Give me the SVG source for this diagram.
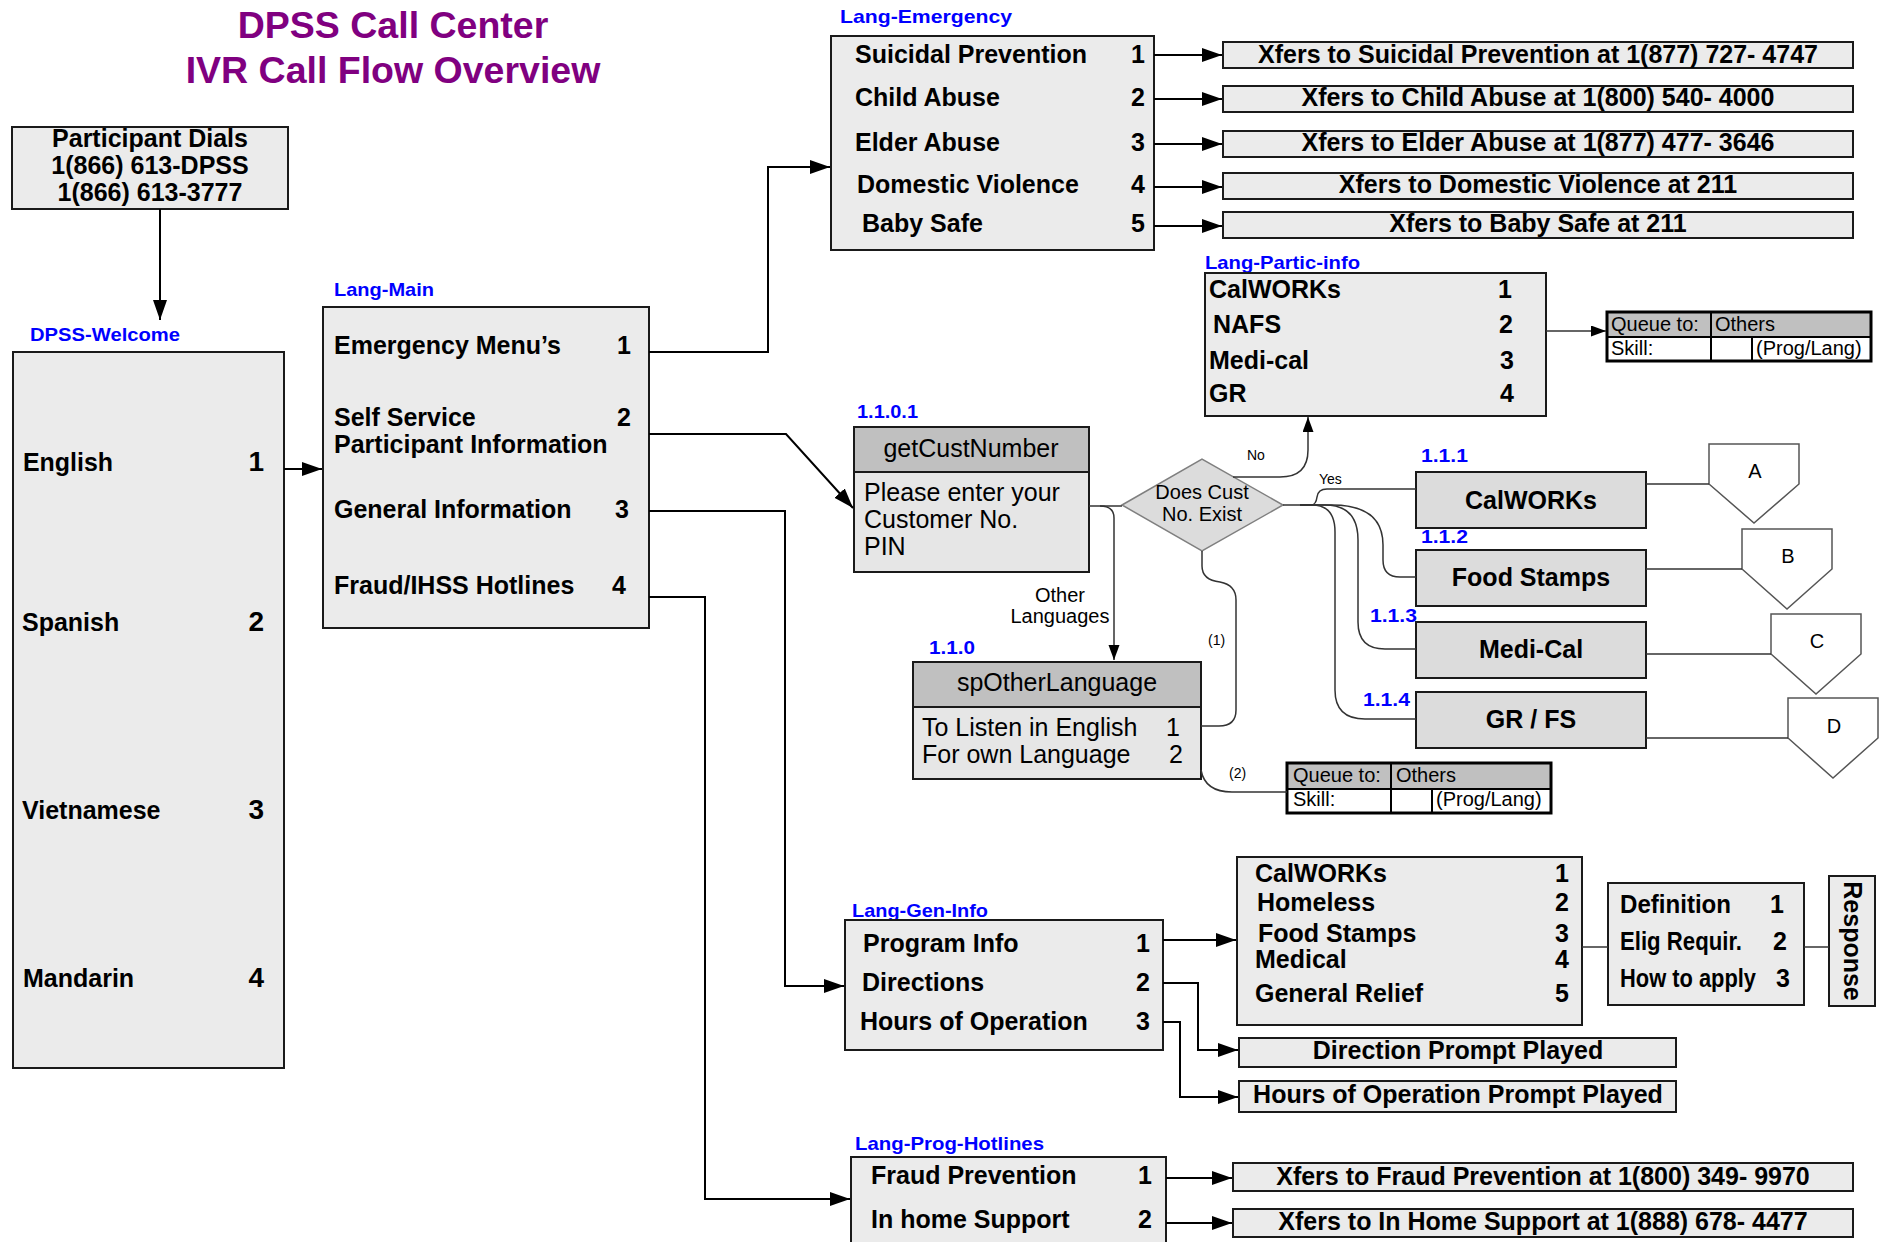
<svg xmlns="http://www.w3.org/2000/svg" width="1885" height="1242" viewBox="0 0 1885 1242">
<style>
text{font-family:"Liberation Sans",Arial,sans-serif;}
.box{fill:#ebebeb;stroke:#1a1a1a;stroke-width:2;}
.dbox{fill:#dcdcdc;stroke:#1a1a1a;stroke-width:2;}
.hdr{fill:#c0c0c0;stroke:#1a1a1a;stroke-width:2;}
.body{fill:#e6e6e6;stroke:#1a1a1a;stroke-width:2;}
.t{font-weight:bold;font-size:25px;fill:#000;}
.num{font-weight:bold;font-size:28px;fill:#000;text-anchor:end;}
.n{font-weight:bold;font-size:25px;fill:#000;text-anchor:end;}
.c{text-anchor:middle;}
.r{font-weight:normal;font-size:25px;fill:#000;}
.s{font-weight:normal;font-size:20px;fill:#000;}
.xs{font-weight:normal;font-size:14px;fill:#000;}
.lbl{font-weight:bold;font-size:19px;fill:#0000ff;}
.title{font-weight:bold;font-size:37.5px;fill:#800080;text-anchor:middle;}
.conn{fill:none;stroke:#000;stroke-width:2;}
.thin{fill:none;stroke:#333;stroke-width:1.5;}
.pent{fill:#fff;stroke:#555;stroke-width:1.5;}
.qo{fill:none;stroke:#000;stroke-width:3;}
.qi{fill:none;stroke:#000;stroke-width:2;}
</style>
<defs>
<marker id="ah" markerUnits="userSpaceOnUse" markerWidth="22" markerHeight="16" refX="20" refY="7" orient="auto">
<path d="M0,0 L20,7 L0,14 z" fill="#000"/>
</marker>
<marker id="ahs" markerUnits="userSpaceOnUse" markerWidth="16" markerHeight="12" refX="15" refY="5.5" orient="auto">
<path d="M0,0 L15,5.5 L0,11 z" fill="#000"/>
</marker>
</defs>
<rect width="1885" height="1242" fill="#fff"/>

<g id="title">
<text class="title" x="393" y="38">DPSS Call Center</text>
<text class="title" x="393" y="83">IVR Call Flow Overview</text>
</g>

<g id="participant-dials">
<rect class="box" x="12" y="127" width="276" height="82"/>
<text class="t c" x="150" y="147">Participant Dials</text>
<text class="t c" x="150" y="174">1(866) 613-DPSS</text>
<text class="t c" x="150" y="201">1(866) 613-3777</text>
</g>

<g id="dpss-welcome">
<text class="lbl" x="30" y="341" font-size="20" textLength="150" lengthAdjust="spacingAndGlyphs">DPSS-Welcome</text>
<rect class="box" x="13" y="352" width="271" height="716"/>
<text class="t" x="23" y="471" textLength="90" lengthAdjust="spacingAndGlyphs">English</text>
<text class="num" x="264" y="471">1</text>
<text class="t" x="22" y="631">Spanish</text>
<text class="num" x="264" y="631">2</text>
<text class="t" x="22" y="819">Vietnamese</text>
<text class="num" x="264" y="819">3</text>
<text class="t" x="23" y="987">Mandarin</text>
<text class="num" x="264" y="987">4</text>
</g>

<g id="lang-main">
<text class="lbl" x="334" y="296" textLength="100" lengthAdjust="spacingAndGlyphs">Lang-Main</text>
<rect class="box" x="323" y="307" width="326" height="321"/>
<text class="t" x="334" y="354">Emergency Menu’s</text>
<text class="n" x="631" y="354">1</text>
<text class="t" x="334" y="426">Self Service</text>
<text class="n" x="631" y="426">2</text>
<text class="t" x="334" y="453">Participant Information</text>
<text class="t" x="334" y="518">General Information</text>
<text class="n" x="629" y="518">3</text>
<text class="t" x="334" y="594">Fraud/IHSS Hotlines</text>
<text class="n" x="626" y="594">4</text>
</g>

<g id="lang-emergency">
<text class="lbl" x="840" y="23" textLength="172" lengthAdjust="spacingAndGlyphs">Lang-Emergency</text>
<rect class="box" x="831" y="36" width="323" height="214"/>
<text class="t" x="855" y="63">Suicidal Prevention</text>
<text class="n" x="1145" y="63">1</text>
<text class="t" x="855" y="106">Child Abuse</text>
<text class="n" x="1145" y="106">2</text>
<text class="t" x="855" y="151">Elder Abuse</text>
<text class="n" x="1145" y="151">3</text>
<text class="t" x="857" y="193">Domestic Violence</text>
<text class="n" x="1145" y="193">4</text>
<text class="t" x="862" y="232">Baby Safe</text>
<text class="n" x="1145" y="232">5</text>
</g>

<g id="xfer-emergency">
<rect class="box" x="1223" y="42" width="630" height="26"/>
<text class="t c" x="1538" y="63">Xfers to Suicidal Prevention at 1(877) 727- 4747</text>
<rect class="box" x="1223" y="86" width="630" height="26"/>
<text class="t c" x="1538" y="106">Xfers to Child Abuse at 1(800) 540- 4000</text>
<rect class="box" x="1223" y="131" width="630" height="26"/>
<text class="t c" x="1538" y="151">Xfers to Elder Abuse at 1(877) 477- 3646</text>
<rect class="box" x="1223" y="173" width="630" height="26"/>
<text class="t c" x="1538" y="193">Xfers to Domestic Violence at 211</text>
<rect class="box" x="1223" y="212" width="630" height="26"/>
<text class="t c" x="1538" y="232">Xfers to Baby Safe at 211</text>
</g>

<g id="lang-partic-info">
<text class="lbl" x="1205" y="269" textLength="155" lengthAdjust="spacingAndGlyphs">Lang-Partic-info</text>
<rect class="box" x="1205" y="273" width="341" height="143"/>
<text class="t" x="1209" y="298">CalWORKs</text>
<text class="t c" x="1505" y="298">1</text>
<text class="t" x="1213" y="333">NAFS</text>
<text class="t c" x="1506" y="333">2</text>
<text class="t" x="1209" y="369">Medi-cal</text>
<text class="t c" x="1507" y="369">3</text>
<text class="t" x="1209" y="402">GR</text>
<text class="t c" x="1507" y="402">4</text>
</g>

<g id="queue-1">
<rect x="1607" y="312" width="264" height="25" fill="#c0c0c0"/>
<rect x="1607" y="337" width="264" height="24" fill="#fff"/>
<rect class="qo" x="1607" y="312" width="264" height="49"/>
<line class="qi" x1="1607" y1="337" x2="1871" y2="337"/>
<line class="qi" x1="1711" y1="312" x2="1711" y2="361"/>
<line class="qi" x1="1752" y1="337" x2="1752" y2="361"/>
<text class="s" x="1611" y="331">Queue to:</text>
<text class="s" x="1715" y="331">Others</text>
<text class="s" x="1611" y="355">Skill:</text>
<text class="s" x="1756" y="355">(Prog/Lang)</text>
</g>

<g id="getCustNumber">
<text class="lbl" x="857" y="418" textLength="61" lengthAdjust="spacingAndGlyphs">1.1.0.1</text>
<rect class="body" x="854" y="427" width="235" height="145"/>
<rect class="hdr" x="854" y="427" width="235" height="45"/>
<text class="r c" x="971" y="457">getCustNumber</text>
<text class="r" x="864" y="501">Please enter your</text>
<text class="r" x="864" y="528">Customer No.</text>
<text class="r" x="864" y="555">PIN</text>
</g>

<g id="decision">
<polygon points="1122,505 1202,459 1283,505 1202,551" fill="#dcdcdc" stroke="#7f7f7f" stroke-width="1.5"/>
<text class="s c" x="1202" y="499">Does Cust</text>
<text class="s c" x="1202" y="521">No. Exist</text>
</g>

<g id="spOtherLanguage">
<text class="lbl" x="929" y="654" textLength="46" lengthAdjust="spacingAndGlyphs">1.1.0</text>
<rect class="body" x="913" y="662" width="288" height="117"/>
<rect class="hdr" x="913" y="662" width="288" height="45"/>
<text class="r c" x="1057" y="691">spOtherLanguage</text>
<text class="r" x="922" y="736" font-size="23">To Listen in English</text>
<text class="r" x="1166" y="736" font-size="23">1</text>
<text class="r" x="922" y="763" font-size="23">For own Language</text>
<text class="r" x="1169" y="763" font-size="23">2</text>
</g>

<g id="queue-2">
<rect x="1287" y="763" width="264" height="26" fill="#c0c0c0"/>
<rect x="1287" y="789" width="264" height="24" fill="#fff"/>
<rect class="qo" x="1287" y="763" width="264" height="50"/>
<line class="qi" x1="1287" y1="789" x2="1551" y2="789"/>
<line class="qi" x1="1391" y1="763" x2="1391" y2="813"/>
<line class="qi" x1="1432" y1="789" x2="1432" y2="813"/>
<text class="s" x="1293" y="782">Queue to:</text>
<text class="s" x="1396" y="782">Others</text>
<text class="s" x="1293" y="806">Skill:</text>
<text class="s" x="1436" y="806">(Prog/Lang)</text>
</g>

<g id="calworks">
<text class="lbl" x="1421" y="462" textLength="47" lengthAdjust="spacingAndGlyphs">1.1.1</text>
<rect class="dbox" x="1416" y="472" width="230" height="56"/>
<text class="t c" x="1531" y="509">CalWORKs</text>
</g>
<g id="food-stamps">
<text class="lbl" x="1421" y="543" textLength="47" lengthAdjust="spacingAndGlyphs">1.1.2</text>
<rect class="dbox" x="1416" y="550" width="230" height="56"/>
<text class="t c" x="1531" y="586">Food Stamps</text>
</g>
<g id="medi-cal">
<text class="lbl" x="1370" y="622" textLength="47" lengthAdjust="spacingAndGlyphs">1.1.3</text>
<rect class="dbox" x="1416" y="622" width="230" height="56"/>
<text class="t c" x="1531" y="658">Medi-Cal</text>
</g>
<g id="gr-fs">
<text class="lbl" x="1363" y="706" textLength="47" lengthAdjust="spacingAndGlyphs">1.1.4</text>
<rect class="dbox" x="1416" y="692" width="230" height="56"/>
<text class="t c" x="1531" y="728">GR / FS</text>
</g>

<g id="offpage-A">
<polygon class="pent" points="1709,444 1799,444 1799,484 1754,523 1709,484"/>
<text class="s c" x="1755" y="478">A</text>
</g>
<g id="offpage-B">
<polygon class="pent" points="1742,529 1832,529 1832,569 1787,609 1742,569"/>
<text class="s c" x="1788" y="563">B</text>
</g>
<g id="offpage-C">
<polygon class="pent" points="1771,614 1861,614 1861,654 1816,694 1771,654"/>
<text class="s c" x="1817" y="648">C</text>
</g>
<g id="offpage-D">
<polygon class="pent" points="1788,698 1878,698 1878,738 1833,778 1788,738"/>
<text class="s c" x="1834" y="733">D</text>
</g>

<g id="lang-gen-info">
<text class="lbl" x="852" y="917" textLength="136" lengthAdjust="spacingAndGlyphs">Lang-Gen-Info</text>
<rect class="box" x="845" y="920" width="318" height="130"/>
<text class="t" x="863" y="952">Program Info</text>
<text class="n" x="1150" y="952">1</text>
<text class="t" x="862" y="991">Directions</text>
<text class="n" x="1150" y="991">2</text>
<text class="t" x="860" y="1030">Hours of Operation</text>
<text class="n" x="1150" y="1030">3</text>
</g>

<g id="program-info">
<rect class="box" x="1237" y="857" width="345" height="168"/>
<text class="t" x="1255" y="882">CalWORKs</text>
<text class="n" x="1569" y="882">1</text>
<text class="t" x="1257" y="911">Homeless</text>
<text class="n" x="1569" y="911">2</text>
<text class="t" x="1258" y="942">Food Stamps</text>
<text class="n" x="1569" y="942">3</text>
<text class="t" x="1255" y="968">Medical</text>
<text class="n" x="1569" y="968">4</text>
<text class="t" x="1255" y="1002">General Relief</text>
<text class="n" x="1569" y="1002">5</text>
</g>

<g id="definition">
<rect class="box" x="1608" y="883" width="196" height="122"/>
<text class="t" x="1620" y="913" font-size="22" textLength="111" lengthAdjust="spacingAndGlyphs">Definition</text>
<text class="n" x="1784" y="913" font-size="22">1</text>
<text class="t" x="1620" y="950" font-size="22" textLength="122" lengthAdjust="spacingAndGlyphs">Elig Requir.</text>
<text class="n" x="1787" y="950" font-size="22">2</text>
<text class="t" x="1620" y="987" font-size="22" textLength="136" lengthAdjust="spacingAndGlyphs">How to apply</text>
<text class="n" x="1790" y="987" font-size="22">3</text>
</g>

<g id="response">
<rect class="box" x="1829" y="876" width="46" height="130"/>
<text class="t c" font-size="23" transform="translate(1844,941) rotate(90)">Response</text>
</g>

<g id="direction-prompt">
<rect class="box" x="1239" y="1038" width="437" height="29"/>
<text class="t c" x="1458" y="1059" font-size="22.5">Direction Prompt Played</text>
</g>
<g id="hours-prompt">
<rect class="box" x="1239" y="1081" width="437" height="31"/>
<text class="t c" x="1458" y="1103" font-size="22.5">Hours of Operation Prompt Played</text>
</g>

<g id="lang-prog-hotlines">
<text class="lbl" x="855" y="1150" textLength="189" lengthAdjust="spacingAndGlyphs">Lang-Prog-Hotlines</text>
<rect class="box" x="851" y="1157" width="315" height="95"/>
<text class="t" x="871" y="1184">Fraud Prevention</text>
<text class="n" x="1152" y="1184">1</text>
<text class="t" x="871" y="1228">In home Support</text>
<text class="n" x="1152" y="1228">2</text>
</g>

<g id="xfer-hotlines">
<rect class="box" x="1233" y="1163" width="620" height="28"/>
<text class="t c" x="1543" y="1185">Xfers to Fraud Prevention at 1(800) 349- 9970</text>
<rect class="box" x="1233" y="1209" width="620" height="28"/>
<text class="t c" x="1543" y="1230">Xfers to In Home Support at 1(888) 678- 4477</text>
</g>

<g id="connectors">
<path class="conn" d="M160,209 V320" marker-end="url(#ah)"/>
<path class="conn" d="M284,469 H322" marker-end="url(#ah)"/>
<path class="conn" d="M649,352 H768 V167 H830" marker-end="url(#ah)"/>
<path class="conn" d="M649,434 H786 L853,508" marker-end="url(#ah)"/>
<path class="conn" d="M649,511 H785 V986 H844" marker-end="url(#ah)"/>
<path class="conn" d="M649,597 H705 V1199 H850" marker-end="url(#ah)"/>
<path class="conn" d="M1154,55 H1222" marker-end="url(#ah)"/>
<path class="conn" d="M1154,99 H1222" marker-end="url(#ah)"/>
<path class="conn" d="M1154,144 H1222" marker-end="url(#ah)"/>
<path class="conn" d="M1154,187 H1222" marker-end="url(#ah)"/>
<path class="conn" d="M1154,226 H1222" marker-end="url(#ah)"/>
<path class="thin" d="M1546,331 H1606" marker-end="url(#ahs)"/>
<path class="thin" d="M1089,506 H1122"/>
<path class="thin" d="M1100,506 Q1114,506 1114,518 V660" marker-end="url(#ahs)"/>
<path class="thin" d="M1233,477 H1280 Q1308,477 1308,450 V417" marker-end="url(#ahs)"/>
<path class="thin" d="M1283,505 H1311 Q1316,505 1317,497 Q1318,489 1327,489 H1416"/>
<path class="thin" d="M1300,505 H1332 Q1383,505 1383,545 V560 Q1383,577 1400,577 H1416"/>
<path class="thin" d="M1300,505 H1325 Q1358,505 1358,540 V622 Q1358,649 1385,649 H1416"/>
<path class="thin" d="M1300,505 H1312 Q1335,505 1335,532 V690 Q1335,719 1365,719 H1416"/>
<path class="thin" d="M1202,551 V566 Q1202,580 1220,582 Q1236,585 1236,600 V710 Q1236,726 1219,726 H1201"/>
<path class="thin" d="M1201,770 Q1205,792 1232,792 H1287"/>
<path class="thin" d="M1646,484 H1709"/>
<path class="thin" d="M1646,569 H1742"/>
<path class="thin" d="M1646,654 H1771"/>
<path class="thin" d="M1646,738 H1788"/>
<path class="conn" d="M1163,940 H1236" marker-end="url(#ah)"/>
<path class="conn" d="M1163,983 H1198 V1050 H1238" marker-end="url(#ah)"/>
<path class="conn" d="M1163,1022 H1180 V1097 H1238" marker-end="url(#ah)"/>
<path class="thin" d="M1582,947 H1608"/>
<path class="thin" d="M1804,947 H1829"/>
<path class="conn" d="M1166,1178 H1232" marker-end="url(#ah)"/>
<path class="conn" d="M1166,1223 H1232" marker-end="url(#ah)"/>
</g>

<g id="connector-labels">
<text class="s c" x="1060" y="602">Other</text>
<text class="s c" x="1060" y="623">Languages</text>
<text class="xs" x="1247" y="460">No</text>
<text class="xs" x="1319" y="484">Yes</text>
<text class="xs" x="1208" y="645">(1)</text>
<text class="xs" x="1229" y="778">(2)</text>
</g>
</svg>
